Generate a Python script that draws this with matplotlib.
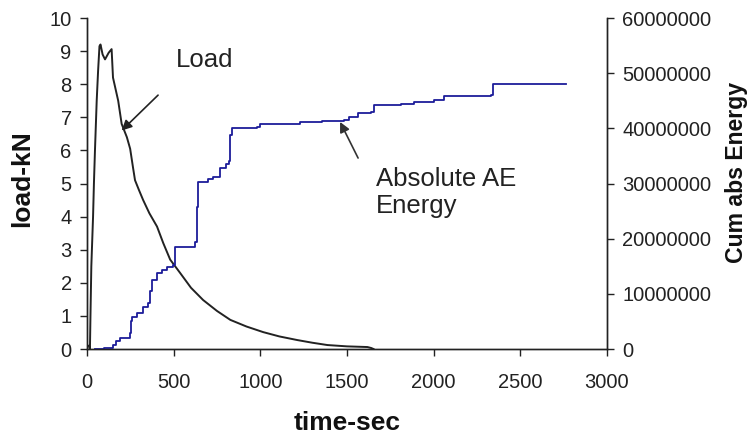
import numpy as np
import matplotlib.pyplot as plt

plt.rcParams['font.family'] = ['Liberation Sans', 'DejaVu Sans']

# load curve (time in s, load in kN)
load_t = [10, 17, 20, 25, 35, 40, 46, 56, 64, 72, 78, 90, 104, 125, 142, 150, 180, 200,
          230, 249, 265, 277, 300, 324, 360, 404, 440, 480, 537, 600, 670, 750, 827,
          920, 1017, 1110, 1214, 1300, 1387, 1500, 1618, 1640, 1653]
load_kn = [0.1, 0.0, 1.0, 2.5, 4.0, 5.0, 6.0, 7.5, 8.4, 9.15, 9.2, 8.9, 8.75, 8.95,
           9.06, 8.2, 7.5, 6.8, 6.4, 6.05, 5.5, 5.1, 4.8, 4.5, 4.1, 3.7, 3.2, 2.7, 2.3,
           1.85, 1.48, 1.15, 0.88, 0.68, 0.51, 0.38, 0.27, 0.19, 0.12, 0.08, 0.06, 0.03,
           0.0]

# cumulative absolute AE energy
ae_t = [46, 100, 150, 165, 190, 249, 255, 262, 289, 324, 353, 362, 376, 404, 430, 462,
        497, 508, 624, 636, 642, 700, 728, 769, 800, 820, 827, 838, 983, 1000, 1231,
        1358, 1480, 1509, 1561, 1636, 1653, 1809, 1884, 2000, 2058, 2329, 2341, 2763]
ae_e = [0, 0.2e6, 0.7e6, 1.5e6, 2.0e6, 2.9e6, 5.0e6, 5.8e6, 6.5e6, 7.6e6, 8.3e6, 10.5e6,
        12.5e6, 13.8e6, 14.3e6, 14.9e6, 15.2e6, 18.5e6, 19.4e6, 25.7e6, 30.3e6, 30.8e6,
        31.2e6, 32.8e6, 33.5e6, 34.0e6, 38.8e6, 40.0e6, 40.2e6, 40.8e6, 41.1e6, 41.3e6,
        41.5e6, 42.0e6, 42.7e6, 43.0e6, 44.2e6, 44.4e6, 44.7e6, 45.1e6, 45.8e6, 46.0e6,
        48.0e6, 48.0e6]

fig = plt.figure(figsize=(7.48, 4.36), dpi=100)
ax = fig.add_axes([0.1163, 0.1995, 0.6952, 0.7592])
ax2 = ax.twinx()

ax.plot(load_t, load_kn, color='#222222', lw=1.4)
ax2.plot(ae_t, ae_e, color='#1c1c9a', lw=1.3, drawstyle='steps-post')

ax.set_xlim(0, 3000)
ax.set_ylim(0, 10)
ax.set_xticks(np.arange(0, 3001, 500))
ax.set_yticks(np.arange(0, 11, 1))
ax2.set_ylim(0, 60000000)
ax2.set_yticks(np.arange(0, 60000001, 10000000))
ax2.set_yticklabels([str(v) for v in range(0, 60000001, 10000000)])

for a in (ax, ax2):
    a.tick_params(direction='out', length=5, width=1, labelsize=14.5, colors='#222222')
    for s in a.spines.values():
        s.set_linewidth(1)
        s.set_color('#222222')
ax.tick_params(axis='x', pad=12)
ax.tick_params(axis='y', pad=6)
ax2.tick_params(axis='y', pad=6)
ax.spines['top'].set_visible(False)
ax2.spines['top'].set_visible(False)

# axis titles
fig.text(347 / 748, 1 - 423 / 436, 'time-sec', fontsize=19, fontweight='bold',
         ha='center', va='center', color='#111111')
fig.text(22 / 748, 1 - 179 / 436, 'load-kN', fontsize=19, fontweight='bold',
         rotation=90, ha='center', va='center', color='#111111')
fig.text(737 / 748, 1 - 172 / 436, 'Cum abs Energy', fontsize=16.6, fontweight='bold',
         rotation=90, ha='center', va='center', color='#111111')

# annotations
ax.text(513, 8.52, 'Load', fontsize=18.5, color='#222222', ha='left', va='baseline')
ax.annotate('', xy=(200, 6.6), xytext=(410, 7.67),
            arrowprops=dict(arrowstyle='-|>', color='#222222', lw=1.2,
                            mutation_scale=15, shrinkA=0, shrinkB=0))
ax.annotate('', xy=(1460, 6.86), xytext=(1564, 5.77),
            arrowprops=dict(arrowstyle='-|>', color='#333333', lw=1.2,
                            mutation_scale=15, shrinkA=0, shrinkB=0))
ax.text(1668, 5.5, 'Absolute AE\nEnergy', fontsize=18.5, color='#222222',
        ha='left', va='top', linespacing=1.15)

fig.savefig('out.png', dpi=100)
